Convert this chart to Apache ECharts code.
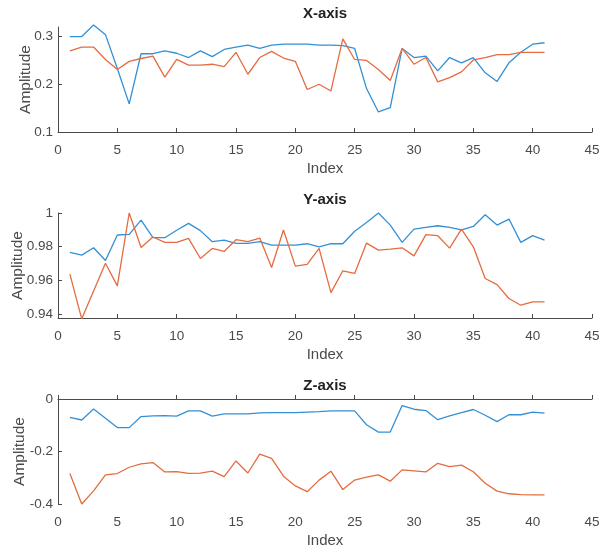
<!DOCTYPE html>
<html>
<head>
<meta charset="utf-8">
<script src="https://cdn.jsdelivr.net/npm/echarts@6/dist/echarts.min.js"></script>
<style>
  html, body { margin: 0; padding: 0; background: #fff; }
  #main { width: 600px; height: 552px; }
</style>
</head>
<body>
<div id="main"></div>
<script>
// sample index
var idx = [1, 2, 3, 4, 5, 6, 7, 8, 9, 10, 11, 12, 13, 14, 15, 16, 17, 18, 19, 20, 21,
  22, 23, 24, 25, 26, 27, 28, 29, 30, 31, 32, 33, 34, 35, 36, 37, 38, 39, 40, 41]

// X-axis amplitudes
var xBlue = [0.300, 0.300, 0.324, 0.304, 0.233, 0.159, 0.264, 0.264, 0.270, 0.265,
  0.256, 0.270, 0.258, 0.273, 0.278, 0.282, 0.275, 0.282, 0.284, 0.284,
  0.284, 0.282, 0.282, 0.281, 0.275, 0.191, 0.142, 0.151, 0.275, 0.256,
  0.259, 0.228, 0.256, 0.245, 0.256, 0.224, 0.206, 0.245, 0.267, 0.284, 0.287]
var xOrange = [0.270, 0.278, 0.278, 0.252, 0.231, 0.248, 0.254, 0.259, 0.215, 0.252,
  0.240, 0.240, 0.242, 0.237, 0.267, 0.221, 0.256, 0.269, 0.255, 0.248,
  0.189, 0.200, 0.186, 0.295, 0.252, 0.250, 0.231, 0.208, 0.275, 0.242,
  0.256, 0.205, 0.214, 0.226, 0.251, 0.256, 0.262, 0.262, 0.267, 0.267, 0.267]

// Y-axis amplitudes
var yBlue = [0.9765, 0.9749, 0.9793, 0.9717, 0.9869, 0.9873, 0.9958, 0.9853, 0.9853, 0.9897,
  0.9938, 0.9895, 0.9829, 0.9839, 0.9819, 0.9819, 0.9829, 0.9809, 0.9809, 0.9809,
  0.9817, 0.9799, 0.9817, 0.9817, 0.9891, 0.9944, 1.0000, 0.9928, 0.9825, 0.9904,
  0.9914, 0.9924, 0.9914, 0.9900, 0.9920, 0.9990, 0.9928, 0.9964, 0.9825, 0.9865, 0.9839]
var yOrange = [0.9636, 0.9370, 0.9536, 0.9701, 0.9566, 1.0000, 0.9795, 0.9857, 0.9825, 0.9825,
  0.9849, 0.9729, 0.9789, 0.9771, 0.9841, 0.9829, 0.9851, 0.9676, 0.9899, 0.9684,
  0.9694, 0.9789, 0.9526, 0.9656, 0.9640, 0.9821, 0.9779, 0.9785, 0.9793, 0.9745,
  0.9871, 0.9865, 0.9791, 0.9904, 0.9799, 0.9610, 0.9574, 0.9491, 0.9451, 0.9471, 0.9471]

// Z-axis amplitudes
var zBlue = [-0.070, -0.080, -0.038, -0.073, -0.109, -0.109, -0.067, -0.064, -0.063, -0.065,
  -0.045, -0.045, -0.065, -0.057, -0.057, -0.057, -0.053, -0.052, -0.052, -0.052,
  -0.050, -0.048, -0.045, -0.045, -0.045, -0.098, -0.126, -0.126, -0.025, -0.039,
  -0.044, -0.079, -0.064, -0.052, -0.040, -0.062, -0.086, -0.060, -0.060, -0.050, -0.054]
var zOrange = [-0.284, -0.400, -0.350, -0.289, -0.284, -0.260, -0.247, -0.242, -0.278, -0.277,
  -0.283, -0.282, -0.275, -0.296, -0.236, -0.282, -0.210, -0.226, -0.294, -0.331,
  -0.353, -0.309, -0.275, -0.345, -0.309, -0.298, -0.289, -0.313, -0.270, -0.274,
  -0.278, -0.245, -0.258, -0.252, -0.277, -0.321, -0.351, -0.361, -0.364, -0.365, -0.365]

var titles = ['X-axis', 'Y-axis', 'Z-axis']
var yRanges = [[0.1, 0.32], [0.9375, 1.0], [-0.4, 0]]
var yTickVals = [[0.1, 0.2, 0.3], [0.94, 0.96, 0.98, 1], [-0.4, -0.2, 0]]

var font = "'Liberation Sans', Arial, sans-serif"
var axisColor = '#4a4a4a'
var blue = '#3490d5'
var orange = '#e46c40'

var tops = [27, 213, 399]
var yNameGaps = [24, 32, 30]   // MATLAB pushes the ylabel past the widest tick label

function pairs(ys) {
  return ys.map(function (v, i) { return [idx[i], v] })
}

var grids = [], xAxes = [], yAxes = [], titleList = [], series = []
var sets = [[xBlue, xOrange], [yBlue, yOrange], [zBlue, zOrange]]

for (var k = 0; k < 3; k++) {
  grids.push({ left: 58, right: 8, top: tops[k], height: 105, outerBoundsMode: 'none', containLabel: false })
  titleList.push({
    text: titles[k],
    left: 325,
    textAlign: 'center',
    top: tops[k] - 21,
    padding: 0,
    textStyle: { fontFamily: font, fontSize: 15, fontWeight: 'bold', color: '#222' }
  })
  xAxes.push({
    type: 'value', gridIndex: k, min: 0, max: 45, interval: 5,
    name: 'Index', nameLocation: 'middle', nameGap: 29, nameMoveOverlap: false,
    nameTextStyle: { fontFamily: font, fontSize: 15, color: axisColor },
    axisLine: { lineStyle: { color: axisColor, width: 1 } },
    axisTick: { inside: true, length: 4, lineStyle: { color: axisColor } },
    axisLabel: { fontFamily: font, fontSize: 13.5, color: axisColor, margin: 11 },
    splitLine: { show: false }
  })
  yAxes.push({
    type: 'value', gridIndex: k, min: yRanges[k][0], max: yRanges[k][1],
    name: 'Amplitude', nameLocation: 'middle', nameGap: yNameGaps[k], nameMoveOverlap: false,
    nameTextStyle: { fontFamily: font, fontSize: 15.5, color: axisColor },
    axisLine: { show: true, lineStyle: { color: axisColor, width: 1 } },
    axisTick: { show: true, inside: true, length: 4, customValues: yTickVals[k], lineStyle: { color: axisColor } },
    axisLabel: { fontFamily: font, fontSize: 13.5, color: axisColor, margin: 5, customValues: yTickVals[k] },
    splitLine: { show: false }
  })
  series.push({
    type: 'line', xAxisIndex: k, yAxisIndex: k, data: pairs(sets[k][0]),
    showSymbol: false, symbol: 'none', clip: false,
    lineStyle: { color: blue, width: 1.3 }
  })
  series.push({
    type: 'line', xAxisIndex: k, yAxisIndex: k, data: pairs(sets[k][1]),
    showSymbol: false, symbol: 'none', clip: false,
    lineStyle: { color: orange, width: 1.3 }
  })
}

var chart = echarts.init(document.getElementById('main'))
chart.setOption({
  animation: false,
  backgroundColor: '#fff',
  title: titleList,
  grid: grids,
  xAxis: xAxes,
  yAxis: yAxes,
  series: series
})
</script>
</body>
</html>
